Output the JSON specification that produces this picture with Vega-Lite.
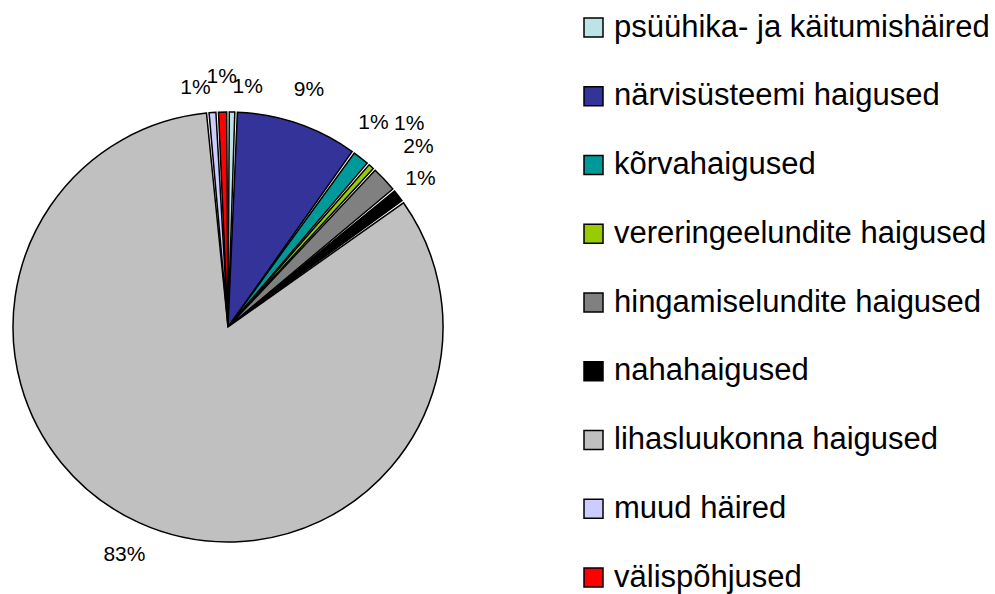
{
  "$schema": "https://vega.github.io/schema/vega-lite/v6.json",
  "width": 995,
  "height": 594,
  "autosize": {"type": "none"},
  "padding": 0,
  "background": "white",
  "config": {"view": {"stroke": null}},
  "data": {
    "values": [
      {"i": 1, "category": "psüühika- ja käitumishäired", "value": 0.006},
      {"i": 2, "category": "närvisüsteemi haigused", "value": 0.093},
      {"i": 3, "category": "kõrvahaigused", "value": 0.014},
      {"i": 4, "category": "vereringeelundite haigused", "value": 0.006},
      {"i": 5, "category": "hingamiselundite haigused", "value": 0.021},
      {"i": 6, "category": "nahahaigused", "value": 0.011},
      {"i": 7, "category": "lihasluukonna haigused", "value": 0.834},
      {"i": 8, "category": "muud häired", "value": 0.007},
      {"i": 9, "category": "välispõhjused", "value": 0.008}
    ]
  },
  "transform": [
    {"stack": "value", "groupby": [], "sort": [{"field": "i", "order": "ascending"}], "as": ["v0", "v1"]},
    {"calculate": "(datum.v0 + datum.v1) / 2", "as": "mid"}
  ],
  "layer": [
    {
      "mark": {"type": "arc", "x": 228, "y": 327, "outerRadius": 215, "stroke": "black", "strokeWidth": 1.5, "padAngle": 0.012},
      "encoding": {
        "theta": {"field": "v0", "type": "quantitative", "scale": {"domain": [0, 1]}},
        "theta2": {"field": "v1"},
        "color": {
          "field": "category",
          "type": "nominal",
          "scale": {
            "domain": ["psüühika- ja käitumishäired", "närvisüsteemi haigused", "kõrvahaigused", "vereringeelundite haigused", "hingamiselundite haigused", "nahahaigused", "lihasluukonna haigused", "muud häired", "välispõhjused"],
            "range": ["#BCE4E6", "#333399", "#009999", "#99CC00", "#808080", "#000000", "#C0C0C0", "#CCCCFF", "#FF0000"]
          },
          "legend": {
            "title": null,
            "orient": "none",
            "legendX": 578,
            "legendY": 12,
            "padding": 0,
            "symbolType": "square",
            "symbolSize": 361,
            "symbolStrokeColor": "black",
            "symbolStrokeWidth": 1.5,
            "symbolOpacity": 1,
            "labelFont": "Liberation Sans",
            "labelFontSize": 31,
            "labelColor": "black",
            "labelOffset": 5,
            "labelLimit": 500,
            "rowPadding": 36.75
          }
        }
      }
    },
    {
      "transform": [{"filter": {"field": "category", "oneOf": ["närvisüsteemi haigused", "lihasluukonna haigused", "välispõhjused"]}}],
      "mark": {"type": "text", "x": 228, "y": 327, "radius": 250, "font": "Liberation Sans", "fontSize": 21, "color": "black", "align": "center", "baseline": "middle"},
      "encoding": {
        "theta": {"field": "mid", "type": "quantitative"},
        "text": {"field": "value", "type": "quantitative", "format": ".0%"}
      }
    },
    {
      "transform": [{"filter": {"field": "category", "equal": "nahahaigused"}}],
      "mark": {"type": "text", "x": 228, "y": 327, "radius": 243, "font": "Liberation Sans", "fontSize": 21, "color": "black", "align": "center", "baseline": "middle"},
      "encoding": {
        "theta": {"field": "mid", "type": "quantitative"},
        "text": {"field": "value", "type": "quantitative", "format": ".0%"}
      }
    },
    {
      "transform": [{"filter": {"field": "category", "equal": "muud häired"}}],
      "mark": {"type": "text", "x": 228, "y": 327, "radius": 240, "font": "Liberation Sans", "fontSize": 21, "color": "black", "align": "right", "baseline": "middle"},
      "encoding": {
        "theta": {"field": "mid", "type": "quantitative"},
        "text": {"field": "value", "type": "quantitative", "format": ".0%"}
      }
    },
    {
      "transform": [{"filter": {"field": "category", "equal": "kõrvahaigused"}}],
      "mark": {"type": "text", "x": 228, "y": 327, "radius": 260, "font": "Liberation Sans", "fontSize": 21, "color": "black", "align": "right", "baseline": "middle"},
      "encoding": {
        "theta": {"field": "mid", "type": "quantitative"},
        "text": {"field": "value", "type": "quantitative", "format": ".0%"}
      }
    },
    {
      "transform": [{"filter": {"field": "category", "equal": "psüühika- ja käitumishäired"}}],
      "mark": {"type": "text", "x": 228, "y": 327, "radius": 240, "font": "Liberation Sans", "fontSize": 21, "color": "black", "align": "left", "baseline": "middle"},
      "encoding": {
        "theta": {"field": "mid", "type": "quantitative"},
        "text": {"field": "value", "type": "quantitative", "format": ".0%"}
      }
    },
    {
      "transform": [{"filter": {"field": "category", "equal": "vereringeelundite haigused"}}],
      "mark": {"type": "text", "x": 228, "y": 327, "radius": 272, "font": "Liberation Sans", "fontSize": 21, "color": "black", "align": "center", "baseline": "middle"},
      "encoding": {
        "theta": {"field": "mid", "type": "quantitative"},
        "text": {"field": "value", "type": "quantitative", "format": ".0%"}
      }
    },
    {
      "transform": [{"filter": {"field": "category", "equal": "hingamiselundite haigused"}}],
      "mark": {"type": "text", "x": 228, "y": 327, "radius": 262, "font": "Liberation Sans", "fontSize": 21, "color": "black", "align": "center", "baseline": "middle"},
      "encoding": {
        "theta": {"field": "mid", "type": "quantitative"},
        "text": {"field": "value", "type": "quantitative", "format": ".0%"}
      }
    }
  ]
}
